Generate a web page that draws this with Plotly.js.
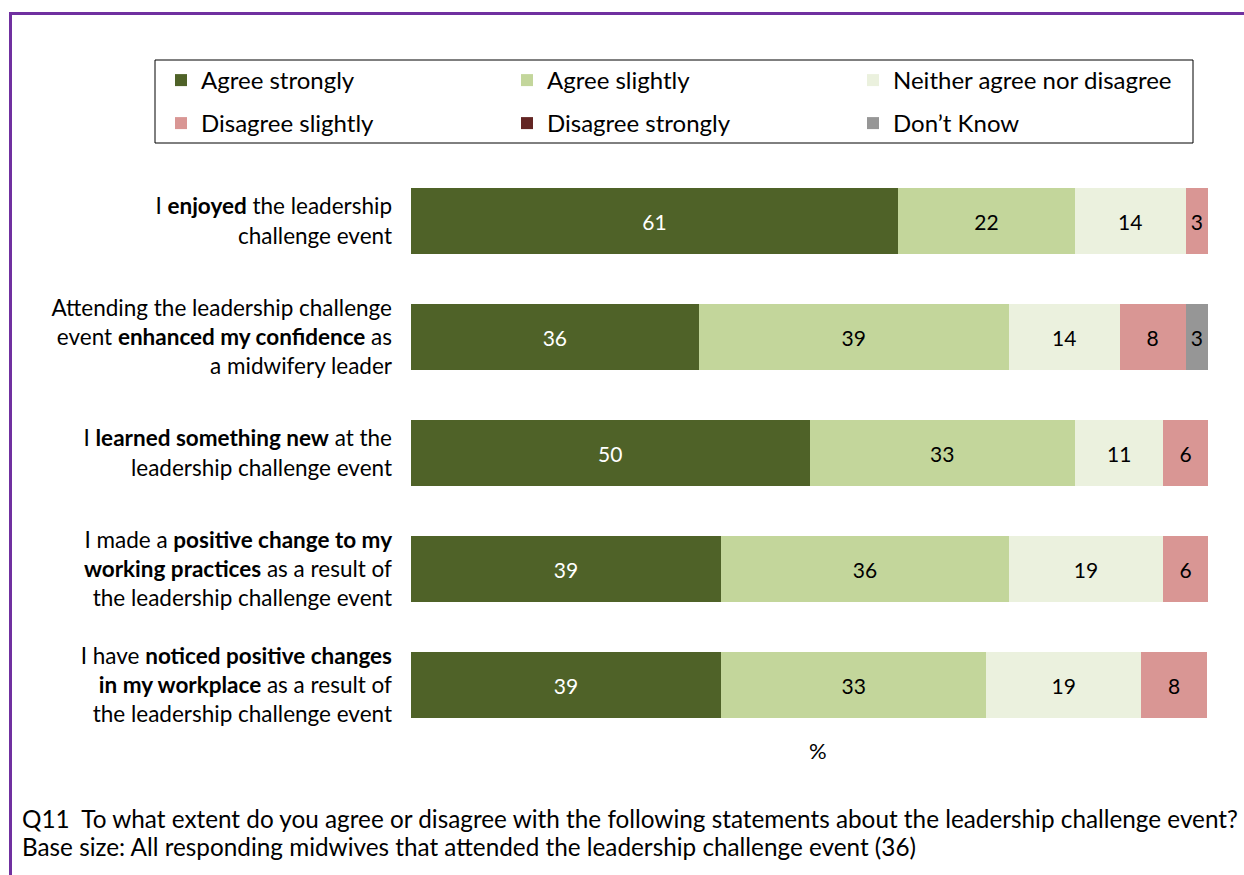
<!DOCTYPE html>
<html>
<head>
<meta charset="utf-8">
<script src="https://cdn.plot.ly/plotly-3.0.1.min.js"></script>
<style>
  html, body { margin: 0; padding: 0; background: #ffffff; }
  #chart { width: 1244px; height: 875px; }
</style>
</head>
<body>
<div id="chart"></div>
<script>
// Statements (top to bottom)
const statements = [
  "I <b>enjoyed</b> the leadership<br>challenge event",
  "Attending the leadership challenge<br>event <b>enhanced my confidence</b> as<br>a midwifery leader",
  "I <b>learned something new</b> at the<br>leadership challenge event",
  "I made a <b>positive change to my</b><br><b>working practices</b> as a result of<br>the leadership challenge event",
  "I have <b>noticed positive changes</b><br><b>in my workplace</b> as a result of<br>the leadership challenge event"
];

// Series values (%), base 36 respondents
const agreeStrongly    = [61.1, 36.1, 50.0, 38.9, 38.9];
const agreeSlightly    = [22.2, 38.9, 33.3, 36.1, 33.3];
const neither          = [13.9, 13.9, 11.1, 19.4, 19.4];
const disagreeSlightly = [2.8, 8.3, 5.6, 5.6, 8.3];
const disagreeStrongly = [0, 0, 0, 0, 0];
const dontKnow         = [0, 2.8, 0, 0, 0];

const seriesNames = ["Agree strongly", "Agree slightly", "Neither agree nor disagree",
                     "Disagree slightly", "Disagree strongly", "Don\u2019t Know"];
const seriesValues = [agreeStrongly, agreeSlightly, neither, disagreeSlightly, disagreeStrongly, dontKnow];
const seriesColors = ["#4F6228", "#C3D69B", "#EBF1DE", "#D99694", "#632523", "#969696"];
const textColors   = ["#ffffff", "#000000", "#000000", "#000000", "#ffffff", "#000000"];
const legendIds    = ["legend", "legend", "legend", "legend2", "legend2", "legend2"];

const footnote1 = "Q11  To what extent do you agree or disagree with the following statements about the leadership challenge event?";
const footnote2 = "Base size: All responding midwives that attended the leadership challenge event (36)";

const FONT = "Lato, 'Open Sans', sans-serif";

const traces = seriesValues.map((vals, i) => ({
  type: "bar",
  orientation: "h",
  name: seriesNames[i],
  y: statements,
  x: vals,
  text: vals.map(v => v > 0 ? String(Math.round(v)) : ""),
  textposition: "inside",
  insidetextanchor: "middle",
  textangle: 0,
  constraintext: "none",
  textfont: { family: FONT, size: 21, color: textColors[i] },
  marker: { color: seriesColors[i], line: { width: 0 } },
  legend: legendIds[i],
  hoverinfo: "skip"
}));

// plot area pixel geometry
const L = 411, R = 1208, T = 163, B = 743, W = 1244, H = 875;
const px = x => (x - L) / (R - L);
const py = y => (B - y) / (B - T);

const legendCommon = {
  orientation: "h",
  xanchor: "left",
  yanchor: "top",
  entrywidth: 301, entrywidthmode: "pixels",
  font: { family: FONT, size: 24, color: "#000000" },
  bgcolor: "rgba(0,0,0,0)",
  borderwidth: 0,
  traceorder: "normal"
};

const layout = {
  width: W, height: H,
  margin: { l: L, r: W - R, t: T, b: H - B, autoexpand: false },
  paper_bgcolor: "#ffffff",
  plot_bgcolor: "#ffffff",
  barmode: "stack",
  bargap: 0.43,
  font: { family: FONT, size: 22, color: "#000000" },
  xaxis: {
    range: [0, 100],
    showticklabels: false,
    showgrid: false,
    zeroline: false,
    showline: false,
    ticks: ""
  },
  yaxis: {
    autorange: "reversed",
    showgrid: false,
    zeroline: false,
    showline: false,
    ticks: "",
    ticklabelstandoff: 18,
    tickfont: { family: FONT, size: 22.5, color: "#000000" }
  },
  legend: Object.assign({}, legendCommon, { x: px(161), y: py(58) }),
  legend2: Object.assign({}, legendCommon, { x: px(161), y: py(101) }),
  shapes: [
    // legend box
    { type: "rect", xref: "paper", yref: "paper",
      x0: px(155), x1: px(1193), y0: py(60), y1: py(143),
      line: { color: "#000000", width: 1 }, fillcolor: "rgba(0,0,0,0)" },
    // purple frame (top and left)
    { type: "path", xref: "paper", yref: "paper",
      path: `M ${px(10.5)} ${py(900)} L ${px(10.5)} ${py(13.5)} L ${px(1260)} ${py(13.5)}`,
      line: { color: "#7030A0", width: 3 } }
  ],
  annotations: [
    { xref: "paper", yref: "paper", x: px(818), y: py(750),
      xanchor: "center", yanchor: "middle", showarrow: false,
      text: "%", font: { family: FONT, size: 22, color: "#000000" } },
    { xref: "paper", yref: "paper", x: px(20), y: py(818),
      xanchor: "left", yanchor: "middle", align: "left", showarrow: false,
      text: footnote1, font: { family: FONT, size: 24.3, color: "#000000" } },
    { xref: "paper", yref: "paper", x: px(20), y: py(846),
      xanchor: "left", yanchor: "middle", align: "left", showarrow: false,
      text: footnote2, font: { family: FONT, size: 24.3, color: "#000000" } }
  ]
};

Plotly.newPlot("chart", traces, layout, { displayModeBar: false, staticPlot: true });
</script>
</body>
</html>
